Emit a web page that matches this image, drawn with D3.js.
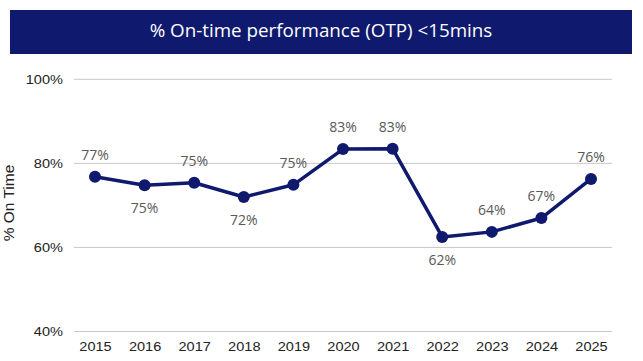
<!DOCTYPE html>
<html><head><meta charset="utf-8">
<script src="https://cdn.jsdelivr.net/npm/d3@7"></script>
<style>body{margin:0;background:#fff}svg{display:block}</style>
</head><body>
<svg id="c" width="643" height="361"></svg>
<script>
const years = ["2015","2016","2017","2018","2019","2020","2021","2022","2023","2024","2025"];
const otp = [76.8, 74.8, 75.4, 72.0, 74.9, 83.4, 83.5, 62.5, 63.7, 67.0, 76.3];
const labels = ["77%","75%","75%","72%","75%","83%","83%","62%","64%","67%","76%"];
const labelPos = ["above","below","above","below","above","above","above","below","above","above","above"];
const yTicks = [40, 60, 80, 100];
const title = "% On-time performance (OTP) <15mins";
const yTitle = "% On Time";

const svg = d3.select("#c");
const navy = "#0f1a6e";
const axisFont = "'Liberation Sans', Arial, sans-serif";

svg.append("rect").attr("x",10).attr("y",10).attr("width",622).attr("height",44).attr("fill",navy);
svg.append("text").attr("x",321).attr("y",37).attr("text-anchor","middle")
  .attr("fill","#fff").attr("font-family","'Open Sans', sans-serif").attr("font-size",18.8).text(title);

const y = d3.scaleLinear().domain([40,100]).range([331.5,79.3]);
const x = d3.scalePoint().domain(years).range([95,591]);

const grid = svg.append("g");
grid.selectAll("line").data(yTicks).join("line")
  .attr("x1",74).attr("x2",612).attr("y1",d=>y(d)).attr("y2",d=>y(d))
  .attr("stroke","#c8c8c8").attr("stroke-width",1);

const yAxis = svg.append("g").attr("transform","translate(63,0)")
  .call(d3.axisLeft(y).tickValues(yTicks).tickFormat(d=>d+"%").tickSize(0).tickPadding(0));
yAxis.select(".domain").remove();
yAxis.selectAll("text").attr("font-family",axisFont).attr("font-size",13).attr("fill","#222")
  .attr("transform","scale(1.12,1)");

const xAxis = svg.append("g").attr("transform","translate(0,342)")
  .call(d3.axisBottom(x).tickSize(0).tickPadding(0));
xAxis.select(".domain").remove();
xAxis.selectAll("text").attr("font-family",axisFont).attr("font-size",13).attr("fill","#222")
  .attr("dy","0.71em").attr("transform","scale(1.12,1)");

svg.append("text").attr("transform","translate(13.5,203) rotate(-90)").attr("text-anchor","middle")
  .attr("font-family",axisFont).attr("font-size",15.5).attr("fill","#222").text(yTitle);

const line = d3.line().x((d,i)=>x(years[i])).y(d=>y(d));
svg.append("path").datum(otp).attr("d",line).attr("fill","none")
  .attr("stroke",navy).attr("stroke-width",3.5).attr("stroke-linejoin","round");

svg.append("g").selectAll("circle").data(otp).join("circle")
  .attr("cx",(d,i)=>x(years[i])).attr("cy",d=>y(d)).attr("r",6).attr("fill",navy);

svg.append("g").selectAll("text").data(otp).join("text")
  .attr("x",(d,i)=>x(years[i])).attr("y",(d,i)=>y(d)+(labelPos[i]==="above"?-22:23))
  .attr("dy","0.35em").attr("text-anchor","middle")
  .attr("font-family","'Open Sans', sans-serif").attr("font-size",14).attr("fill","#595959")
  .text((d,i)=>labels[i]);
</script>
</body></html>
